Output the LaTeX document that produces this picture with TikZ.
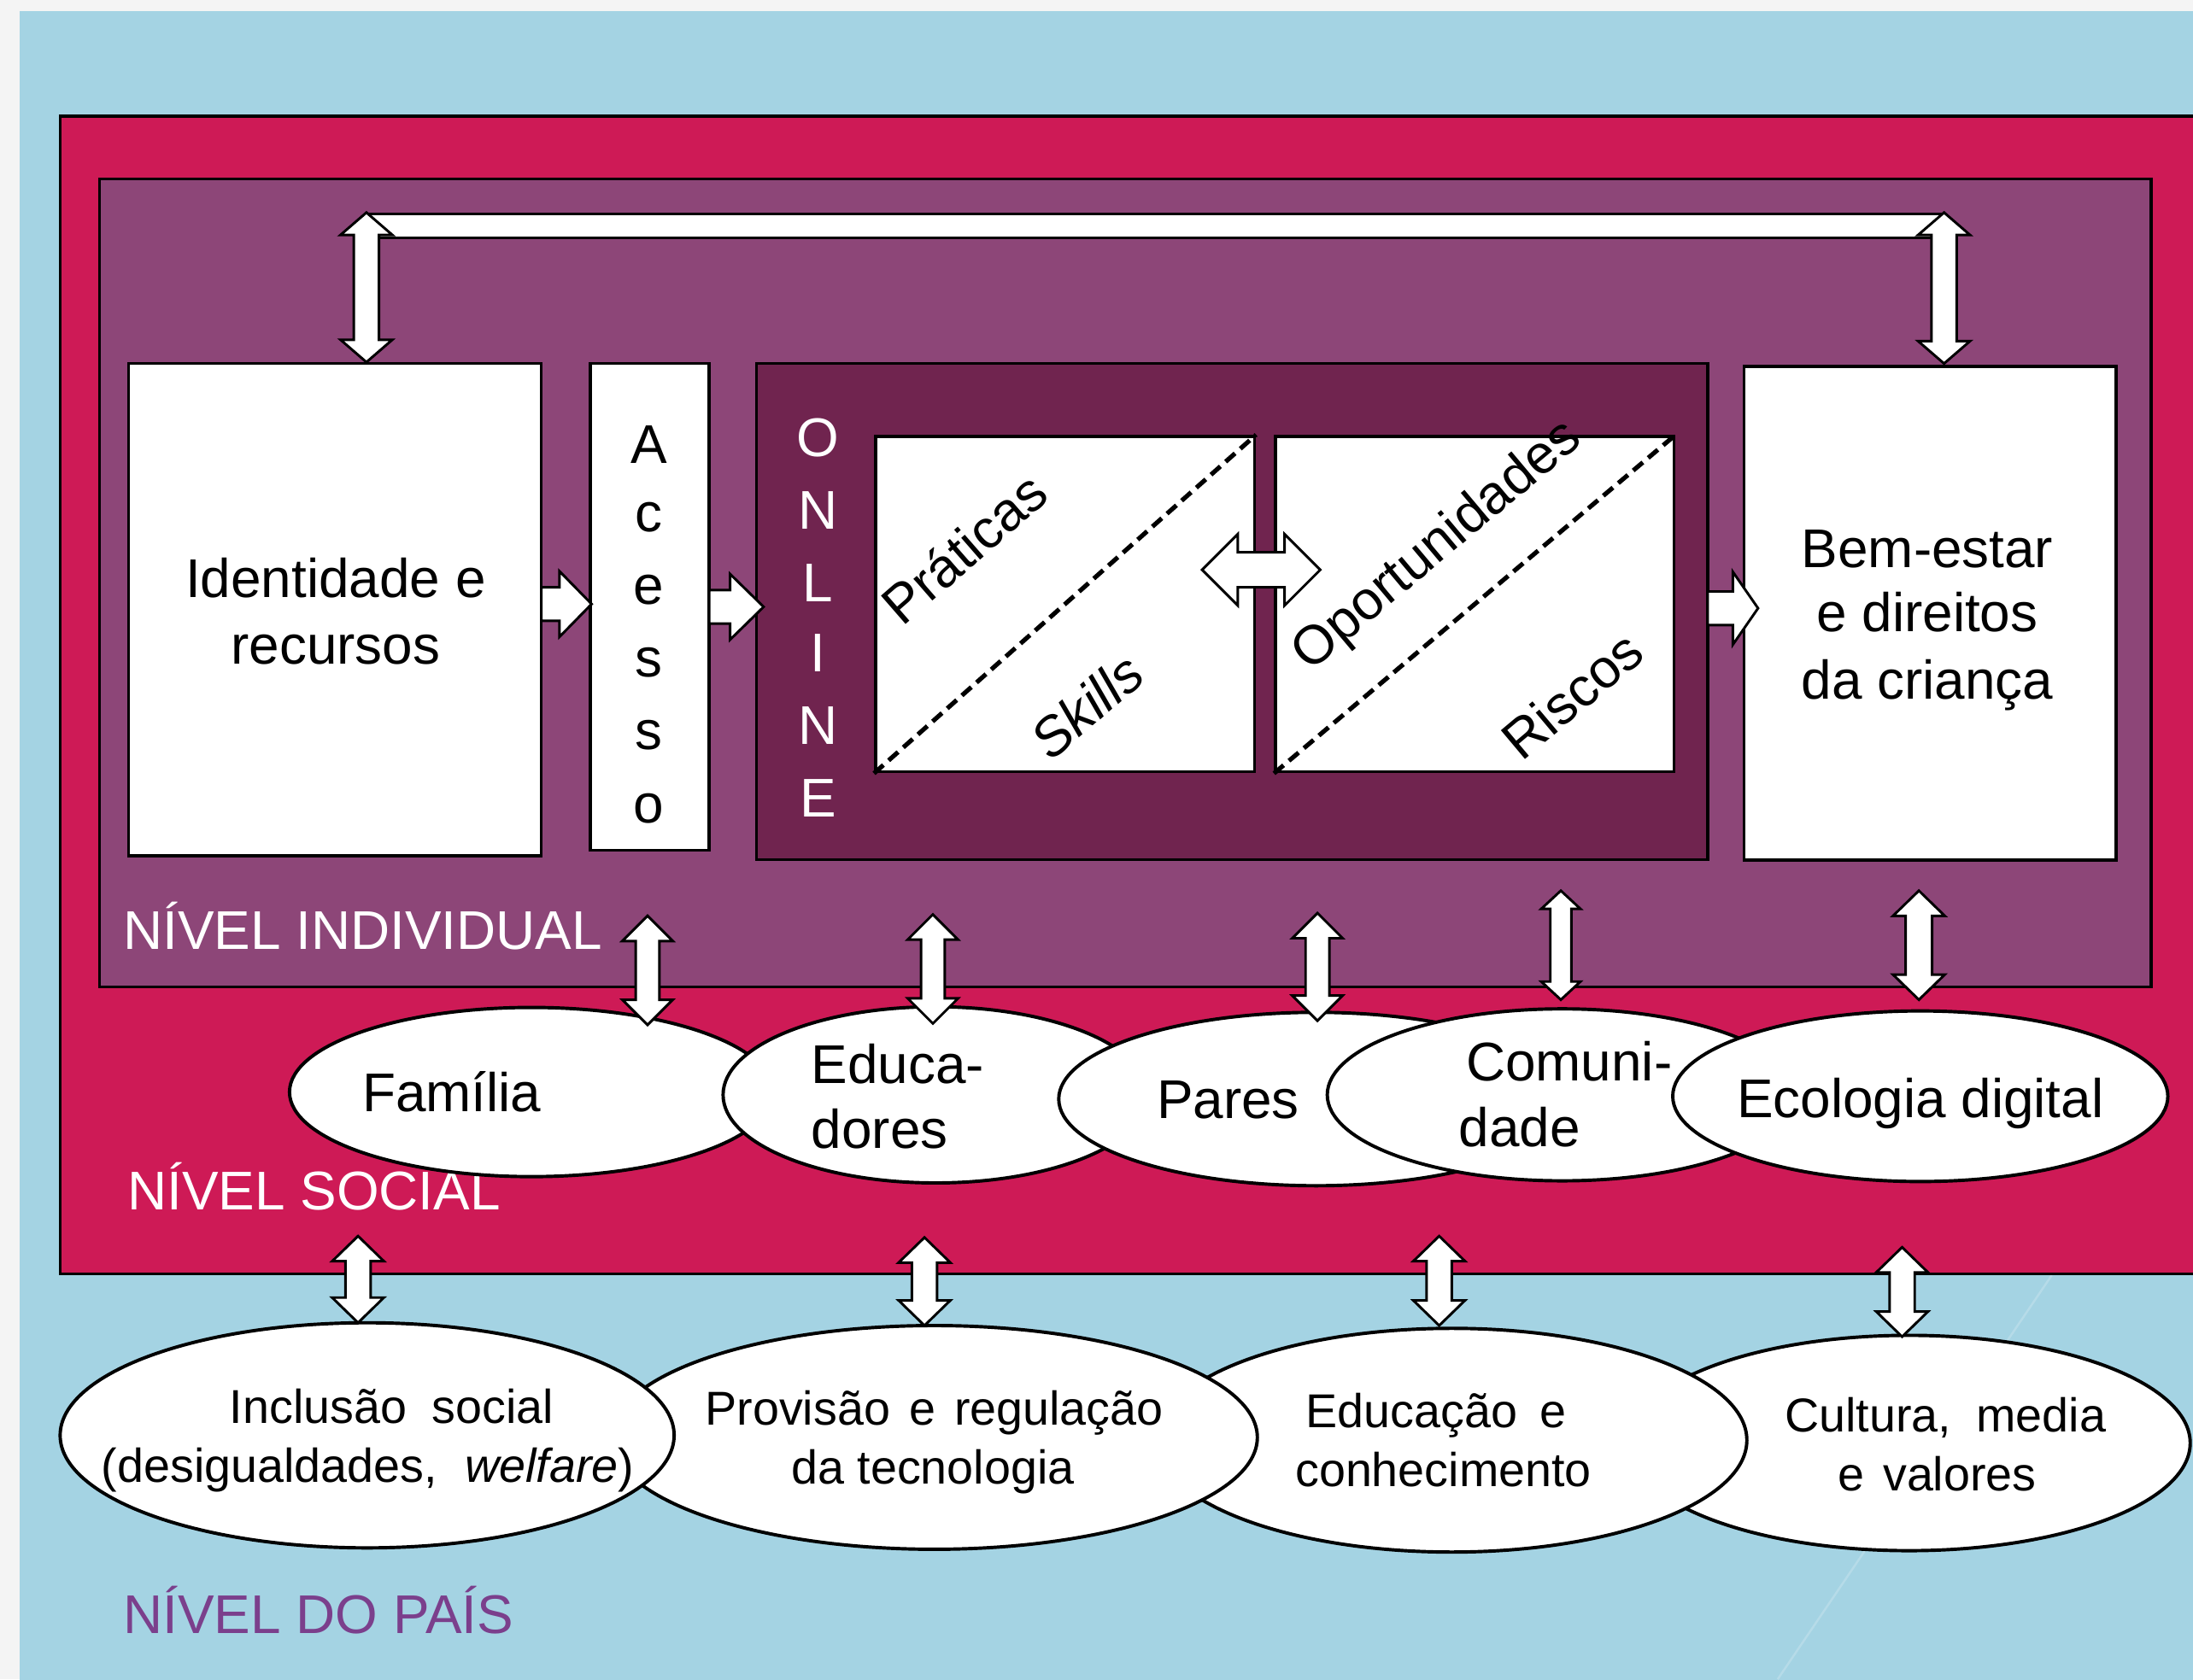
\documentclass[tikz,border=0pt]{standalone}
\usepackage{fontspec}
\setmainfont{Liberation Sans}
\usetikzlibrary{shapes.geometric}
\definecolor{bggrey}{HTML}{F4F4F4}
\definecolor{skyblue}{HTML}{A4D3E3}
\definecolor{crimson}{HTML}{CE1A56}
\definecolor{plum}{HTML}{8D4678}
\definecolor{wine}{HTML}{70244F}
\definecolor{paislabel}{HTML}{7B3F8C}
% vertical double block arrow: x, ytop, ybot, head half width, shaft half width, head length
\newcommand\myvdarrow[6]{%
  \draw[blockarrow] (#1,#2) -- ({#1+#4},{#2+#6}) -- ({#1+#5},{#2+#6}) -- ({#1+#5},{#3-#6}) -- ({#1+#4},{#3-#6}) -- (#1,#3) -- ({#1-#4},{#3-#6}) -- ({#1-#5},{#3-#6}) -- ({#1-#5},{#2+#6}) -- ({#1-#4},{#2+#6}) -- cycle;}
% right block arrow: x1, x2, yc, head half height, shaft half height, head length
\newcommand\myrarrow[6]{%
  \draw[blockarrow] (#1,{#3-#5}) -- ({#2-#6},{#3-#5}) -- ({#2-#6},{#3-#4}) -- (#2,#3) -- ({#2-#6},{#3+#4}) -- ({#2-#6},{#3+#5}) -- (#1,{#3+#5}) -- cycle;}
% horizontal double block arrow
\newcommand\myhdarrow[6]{%
  \draw[blockarrow] (#1,#3) -- ({#1+#6},{#3-#4}) -- ({#1+#6},{#3-#5}) -- ({#2-#6},{#3-#5}) -- ({#2-#6},{#3-#4}) -- (#2,#3) -- ({#2-#6},{#3+#4}) -- ({#2-#6},{#3+#5}) -- ({#1+#6},{#3+#5}) -- ({#1+#6},{#3+#4}) -- cycle;}
\begin{document}
\begin{tikzpicture}[x=1pt,y=-1pt,
  levelbox/.style={draw=black, line width=2pt, inner sep=0pt},
  whitebox/.style={draw=black, line width=2.2pt, fill=white, inner sep=0pt},
  blockarrow/.style={draw=black, line width=1.8pt, fill=white, line join=miter},
  oval/.style={ellipse, draw=black, line width=2.4pt, fill=white, inner sep=0pt},
  diag/.style={draw=black, line width=3.2pt, dash pattern=on 9pt off 5pt},
  txt/.style={font=\fontsize{39}{48}\selectfont, inner sep=0pt},
  ctxt/.style={font=\fontsize{34}{42}\selectfont, inner sep=0pt, anchor=base},
  lvl/.style={font=\fontsize{39}{47}\selectfont, anchor=base west, inner sep=0pt},
]
\useasboundingbox (0,0) rectangle (1568,1201);
\begin{scope}
\clip (0,0) rectangle (1568,1201);
\fill[bggrey] (0,0) rectangle (1568,1201);
\fill[skyblue] (14,8) rectangle (1580,1210);
\draw[white, opacity=0.2, line width=1.5pt] (1467,912) -- (1271,1201);

% level boxes
\node[levelbox, fill=crimson, minimum width=1547pt, minimum height=828pt] (social) at (816.5,497) {};
\node[levelbox, fill=plum, minimum width=1467pt, minimum height=578pt] (individ) at (804.5,417) {};

% individual level boxes
\node[whitebox, minimum width=295pt, minimum height=352pt] (ident) at (239.5,436) {};
\node[whitebox, minimum width=85pt, minimum height=348pt] (acesso) at (464.5,434) {};
\node[levelbox, fill=wine, minimum width=680pt, minimum height=355pt] (online) at (881,437.5) {};
\node[whitebox, minimum width=271pt, minimum height=240pt] (prat) at (761.5,432) {};
\node[whitebox, minimum width=285pt, minimum height=240pt] (oport) at (1054.5,432) {};
\node[whitebox, minimum width=266pt, minimum height=353pt] (bem) at (1380,438.5) {};
\draw[diag] (prat.south west) -- (prat.north east);
\draw[diag] (oport.south west) -- (oport.north east);

% texts in boxes
\node[txt, anchor=base] (t-ident1) at (240,427) {Identidade e};
\node[txt, anchor=base] (t-ident2) at (240,475) {recursos};
\foreach \l/\y [count=\i] in {A/318,c/370,e/422,s/474,s/526,o/578}
  \node[txt] (t-acesso\i) at (464,\y) {\l};
\foreach \l/\y [count=\i] in {O/313,N/365,L/417,I/467,N/519,E/571}
  \node[txt, text=white] (t-online\i) at (585,\y) {\l};
\node[txt, rotate=41] (t-prat) at (689,392) {Práticas};
\node[txt, rotate=41, font=\fontsize{39}{48}\selectfont\itshape] (t-skills) at (777,505) {Skills};
\node[txt, rotate=40] (t-oport) at (1028,391) {Oportunidades};
\node[txt, rotate=40] (t-riscos) at (1124,497) {Riscos};
\node[txt, anchor=base] (t-bem1) at (1378,406) {Bem-estar};
\node[txt, anchor=base] (t-bem2) at (1378,452) {e direitos};
\node[txt, anchor=base] (t-bem3) at (1378,500) {da criança};

% level labels (drawn before the ellipses, which overlap them)
\node[lvl, text=white] (l-ind) at (88,679) {NÍVEL INDIVIDUAL};
\node[lvl, text=white] (l-soc) at (91,865) {NÍVEL SOCIAL};
\node[lvl, text=paislabel] (l-pais) at (88,1168) {NÍVEL DO PAÍS};

% social level ellipses (left to right, each on top)
\node[oval, minimum width=346pt, minimum height=121pt] (familia) at (380,781) {};
\node[oval, minimum width=304pt, minimum height=126pt] (educ) at (669,783) {};
\node[oval, minimum width=368pt, minimum height=124pt] (pares) at (941,786) {};
\node[oval, minimum width=336pt, minimum height=123pt] (comun) at (1117,783) {};
\node[oval, minimum width=354pt, minimum height=122pt] (ecol) at (1373,784) {};
\node[txt, anchor=base] (t-fam) at (323,795) {Família};
\node[txt, anchor=base west] (t-edu1) at (580,775) {Educa-};
\node[txt, anchor=base west] (t-edu2) at (580,821) {dores};
\node[txt, anchor=base] (t-pares) at (878,800) {Pares};
\node[txt, anchor=base west] (t-com1) at (1048,773) {Comuni-};
\node[txt, anchor=base west] (t-com2) at (1043,820) {dade};
\node[txt, anchor=base] (t-ecol) at (1373,799) {Ecologia digital};

% country level ellipses (right to left, each on top)
\node[oval, minimum width=402pt, minimum height=154pt] (cult) at (1365,1032) {};
\node[oval, minimum width=422pt, minimum height=160pt] (educa) at (1038,1030) {};
\node[oval, minimum width=462pt, minimum height=160pt] (prov) at (668,1028) {};
\node[oval, minimum width=439pt, minimum height=161pt] (incl) at (262.5,1026.5) {};
\node[ctxt] (t-incl1) at (280,1018) {Inclusão\hspace{0.25em} social};
\node[ctxt] (t-incl2) at (263,1060) {(desigualdades,\hspace{0.3em} \textit{welfare})};
\node[ctxt] (t-prov1) at (668,1019) {Provisão\hspace{0.12em} e\hspace{0.12em} regulação};
\node[ctxt] (t-prov2) at (667,1061) {da tecnologia};
\node[ctxt] (t-educa1) at (1027,1021) {Educação\hspace{0.2em} e};
\node[ctxt] (t-educa2) at (1032,1063) {conhecimento};
\node[ctxt] (t-cult1) at (1391,1024) {Cultura,\hspace{0.25em} media};
\node[ctxt] (t-cult2) at (1385,1066) {e\hspace{0.12em} valores};

% top bracket arrow between identity and well-being
\draw[blockarrow] (262,153) rectangle (1390,170);
\myvdarrow{262}{152}{259}{18.5}{9}{16}
\myvdarrow{1390}{152}{260}{18.5}{9}{16}

% flow arrows
\myrarrow{387}{423}{432}{23.5}{12}{23}
\myrarrow{507}{546}{434}{23.5}{12}{24}
\myrarrow{1221}{1257}{435}{26}{12}{18}
\myhdarrow{859.5}{944}{407.5}{25.5}{12.5}{25.5}

% individual <-> social
\myvdarrow{463}{655}{733}{18}{8.5}{18}
\myvdarrow{667}{654}{732}{18}{8.5}{18}
\myvdarrow{942}{653}{730}{18}{8.5}{18}
\myvdarrow{1116}{637}{715}{14}{7.5}{13}
\myvdarrow{1372}{637}{715}{18.5}{9.5}{18}

% social <-> country
\myvdarrow{256}{884}{946}{18.5}{9}{18}
\myvdarrow{661}{885}{948}{18.5}{9}{18}
\myvdarrow{1029}{884}{948}{18.5}{9}{18}
\myvdarrow{1360}{892}{956}{18.5}{9}{18}
\end{scope}
\end{tikzpicture}
\end{document}
